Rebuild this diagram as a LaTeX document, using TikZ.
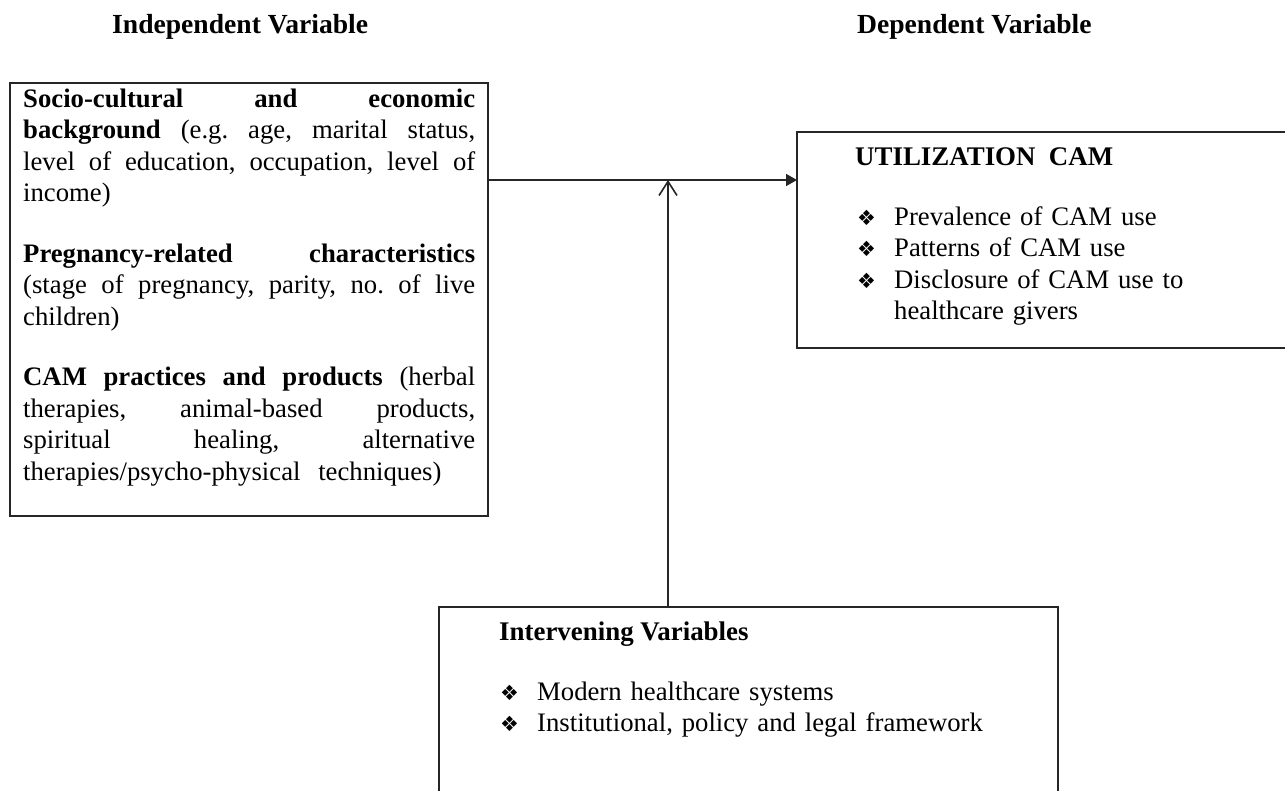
\documentclass[tikz,border=0pt]{standalone}
\usepackage{fontspec}
\setmainfont{Liberation Serif}
\newfontfamily\dingfont{DejaVu Sans}
\usetikzlibrary{arrows.meta}
\frenchspacing
\newcommand{\jline}[1]{\leavevmode\hbox to 452pt{\spaceskip=0.25em plus 1fil\relax #1}}
\newcommand{\dbul}{\makebox[37pt][l]{\dingfont\fontsize{21}{21}\selectfont ❖}}
\tikzset{
  boxnode/.style={draw=black!85, line width=1.6pt, inner sep=0pt, outer sep=0pt, anchor=north west},
  bodytext/.style={font=\fontsize{26.7}{31.5}\selectfont, inner sep=0pt, anchor=base west, align=left},
  headtext/.style={font=\fontsize{26.9}{31.5}\selectfont\bfseries, inner sep=0pt, anchor=base west},
  toptext/.style={font=\fontsize{27.6}{31.5}\selectfont\bfseries, inner sep=0pt, anchor=base west},
  link/.style={line width=1.6pt, draw=black!85}
}
\begin{document}
\begin{tikzpicture}[x=1pt, y=-1pt]
\useasboundingbox (0,0) rectangle (1285,790);
\clip (0,0) rectangle (1285,790);
\fill[white] (0,0) rectangle (1285,790);

% headings
\node[toptext] (hind) at (112,33) {Independent Variable};
\node[toptext] (hdep) at (857,33) {Dependent Variable};

% boxes
\node[boxnode, minimum width=478pt, minimum height=433pt] (ind) at (10,83) {};
\node[boxnode, minimum width=520pt, minimum height=216pt] (dep) at (797,132) {};
\node[boxnode, minimum width=619pt, minimum height=240pt] (intv) at (439,607) {};

% left box text
\node[bodytext, text width=452pt] (indtext) at (23,107) {%
\jline{\textbf{Socio-cultural and economic}}\\
\jline{\textbf{background} (e.g. age, marital status,}\\
\jline{level of education, occupation, level of}\\
income)\\[29pt]
\jline{\textbf{Pregnancy-related characteristics}}\\
\jline{(stage of pregnancy, parity, no. of live}\\
children)\\[29pt]
\jline{\textbf{CAM practices and products} (herbal}\\
\jline{therapies, animal-based products,}\\
\jline{spiritual healing, alternative}\\
therapies/psycho-physical\ \ techniques)};

% right box text
\node[headtext] (deptitle) at (855,165) {UTILIZATION\ \ CAM};
\node[bodytext, text width=400pt] (deplist) at (857,225) {%
\dbul Prevalence of CAM use\\
\dbul Patterns of CAM use\\
\dbul Disclosure of CAM use to\\
\hspace*{37pt}healthcare givers};

% bottom box text
\node[headtext] (intvtitle) at (499,640) {Intervening Variables};
\node[bodytext, text width=520pt] (intvlist) at (500,700) {%
\dbul Modern healthcare systems\\
\dbul Institutional, policy and legal framework};

% connectors
\coordinate (j) at (668,180);
\draw[link, -{Triangle[length=11pt,width=12pt]}] (ind.east |- j) -- (dep.west |- j);
\draw[link, -{Straight Barb[length=14pt,width=18pt]}] (intv.north -| j) -- (j);
\end{tikzpicture}
\end{document}
